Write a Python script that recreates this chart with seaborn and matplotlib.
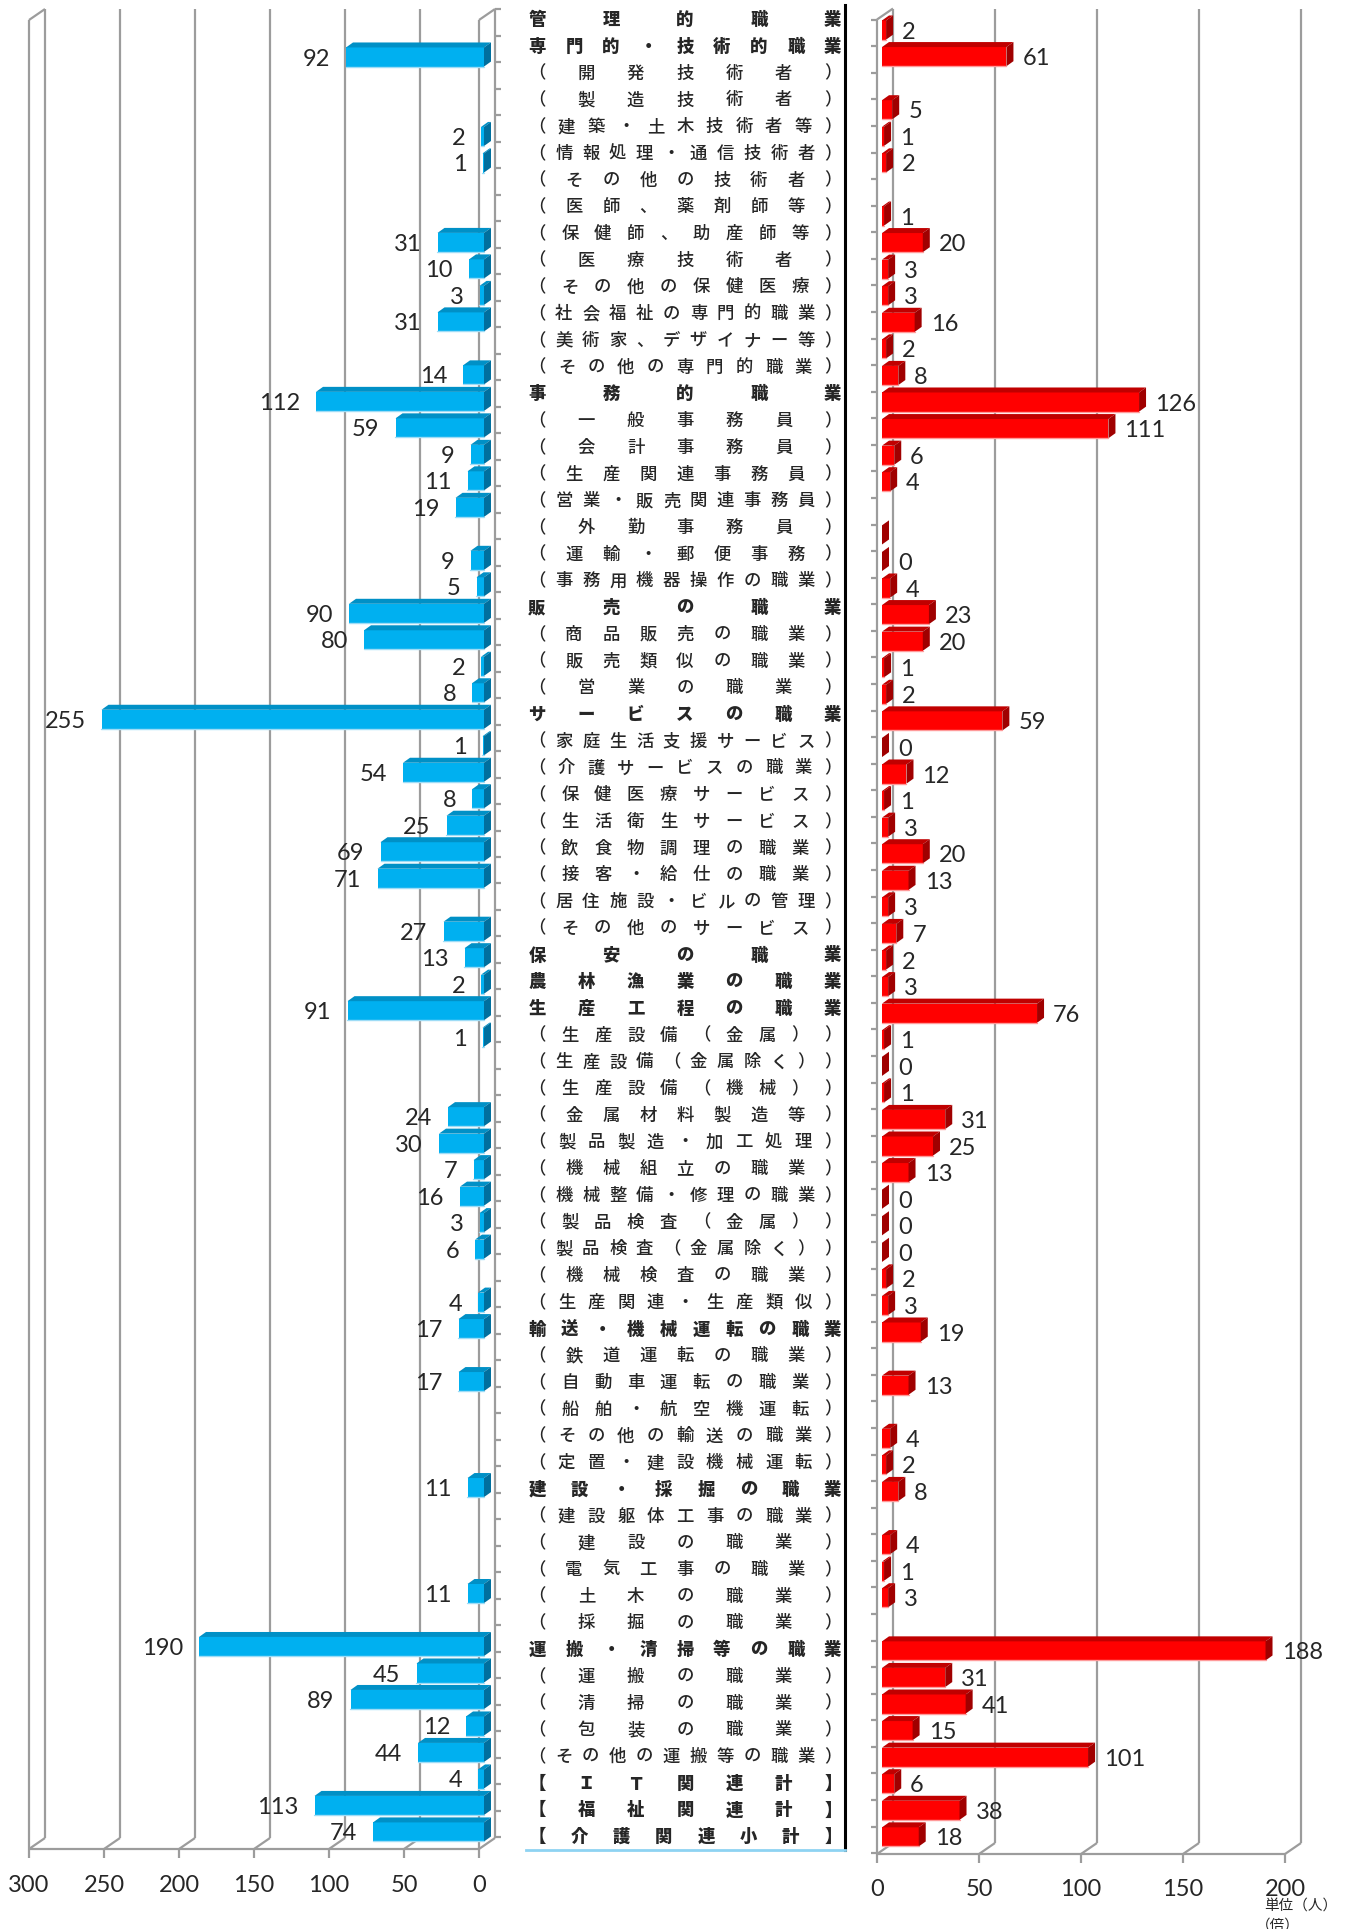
import numpy as np
import pandas as pd
import matplotlib
matplotlib.use("Agg")
import matplotlib.pyplot as plt
import seaborn as sns
from matplotlib.patches import Polygon

sns.set_style("white")
plt.rcParams['font.family'] = ['Lato', 'DejaVu Sans']

nan = np.nan

# category rows (top -> bottom)
labels = [
    "管理的職業", "専門的・技術的職業", "（開発技術者）", "（製造技術者）", "（建築・土木技術者等）",
    "（情報処理・通信技術者）", "（その他の技術者）", "（医師、薬剤師等）", "（保健師、助産師等）",
    "（医療技術者）", "（その他の保健医療）", "（社会福祉の専門的職業）", "（美術家、デザイナー等）",
    "（その他の専門的職業）",
    "事務的職業", "（一般事務員）", "（会計事務員）", "（生産関連事務員）", "（営業・販売関連事務員）",
    "（外勤事務員）", "（運輸・郵便事務）", "（事務用機器操作の職業）",
    "販売の職業", "（商品販売の職業）", "（販売類似の職業）", "（営業の職業）",
    "サービスの職業", "（家庭生活支援サービス）", "（介護サービスの職業）", "（保健医療サービス）",
    "（生活衛生サービス）", "（飲食物調理の職業）", "（接客・給仕の職業）", "（居住施設・ビルの管理）",
    "（その他のサービス）",
    "保安の職業", "農林漁業の職業", "生産工程の職業", "（生産設備（金属））", "（生産設備（金属除く））",
    "（生産設備（機械））", "（金属材料製造等）", "（製品製造・加工処理）", "（機械組立の職業）",
    "（機械整備・修理の職業）", "（製品検査（金属））", "（製品検査（金属除く））", "（機械検査の職業）",
    "（生産関連・生産類似）",
    "輸送・機械運転の職業", "（鉄道運転の職業）", "（自動車運転の職業）", "（船舶・航空機運転）",
    "（その他の輸送の職業）", "（定置・建設機械運転）",
    "建設・採掘の職業", "（建設躯体工事の職業）", "（建設の職業）", "（電気工事の職業）", "（土木の職業）",
    "（採掘の職業）",
    "運搬・清掃等の職業", "（運搬の職業）", "（清掃の職業）", "（包装の職業）", "（その他の運搬等の職業）",
    "【ＩＴ関連計】", "【福祉関連計】", "【介護関連小計】",
]

left_vals = [
    nan, 92, nan, nan, 2, 1, nan, nan, 31, 10, 3, 31, nan, 14,
    112, 59, 9, 11, 19, nan, 9, 5,
    90, 80, 2, 8,
    255, 1, 54, 8, 25, 69, 71, nan, 27,
    13, 2, 91, 1, nan, nan, 24, 30, 7, 16, 3, 6, nan, 4,
    17, nan, 17, nan, nan, nan,
    11, nan, nan, nan, 11, nan,
    190, 45, 89, 12, 44,
    4, 113, 74,
]

right_vals = [
    2, 61, nan, 5, 1, 2, nan, 1, 20, 3, 3, 16, 2, 8,
    126, 111, 6, 4, nan, 0, 0, 4,
    23, 20, 1, 2,
    59, 0, 12, 1, 3, 20, 13, 3, 7,
    2, 3, 76, 1, 0, 1, 31, 25, 13, 0, 0, 0, 2, 3,
    19, nan, 13, nan, 4, 2,
    8, nan, 4, 1, 3, nan,
    188, 31, 41, 15, 101,
    6, 38, 18,
]

right_no_label = ["（外勤事務員）"]
left_ticks = [300, 250, 200, 150, 100, 50, 0]
right_ticks = [0, 50, 100, 150, 200]

df = pd.DataFrame({"label": labels, "left": left_vals, "right": right_vals})

W, H = 1345, 1929
fig = plt.figure(figsize=(W / 100, H / 100), dpi=100)

def px_box(x0, x1, y0, y1):
    return [x0 / W, 1 - y1 / H, (x1 - x0) / W, (y1 - y0) / H]

ax_l = fig.add_axes(px_box(34, 484, 17, 1846))
ax_m = fig.add_axes(px_box(526, 845, 5, 1850))
ax_r = fig.add_axes(px_box(882, 1290, 16.5, 1851))

R_TOP, R_FLOOR = -0.51, 68.53
FRONT = (-5, -3)   # pixel offsets (display, y up) from bar plane
BACK = (11, 8)
DEPTH = (7, 5)
GRID = "#9c9c9c"
CJK = ["Noto Sans CJK JP", "DejaVu Sans"]

sns.barplot(data=df.dropna(subset=["left"]), x="left", y="label", order=labels, orient="h",
            color="#00b0f0", saturation=1, width=0.72, linewidth=0, ax=ax_l, zorder=3)
sns.barplot(data=df.dropna(subset=["right"]), x="right", y="label", order=labels, orient="h",
            color="#ff0000", saturation=1, width=0.72, linewidth=0, ax=ax_r, zorder=3)

ax_l.set_xlim(300, 0)
ax_r.set_xlim(0, 200)
for ax in (ax_l, ax_r):
    ax.set_ylim(R_FLOOR, R_TOP)
    ax.axis("off")


def shifted(ax, x, y, dx, dy):
    p = ax.transData.transform((x, y)) + np.array([dx, dy])
    return ax.transData.inverted().transform(p)


def seg(ax, p, q, **kw):
    ax.plot([p[0], q[0]], [p[1], q[1]], color=GRID, lw=1.6, clip_on=False,
            solid_capstyle="butt", **kw)


# 3D faces on bars
def add_faces(ax, top_c, side_c, low_c):
    inv = ax.transData.inverted()
    dx, dy = DEPTH
    for p in list(ax.patches):
        xa, ya = ax.transData.transform((p.get_x(), p.get_y()))
        xb, yb = ax.transData.transform((p.get_x() + p.get_width(), p.get_y() + p.get_height()))
        x_lo, x_hi = sorted((xa, xb))
        y_lo, y_hi = sorted((ya, yb))
        top = [(x_lo, y_hi), (x_hi, y_hi), (x_hi + dx, y_hi + dy), (x_lo + dx, y_hi + dy)]
        side = [(x_hi, y_lo), (x_hi, y_hi), (x_hi + dx, y_hi + dy), (x_hi + dx, y_lo + dy)]
        ax.add_patch(Polygon(inv.transform(top), closed=True, fc=top_c, ec="none",
                             clip_on=False, zorder=3))
        ax.add_patch(Polygon(inv.transform(side), closed=True, fc=side_c, ec="none",
                             clip_on=False, zorder=3))
        bl = inv.transform([(x_lo, y_lo), (x_hi, y_lo)])
        ax.plot(bl[:, 0], bl[:, 1], color=low_c, lw=1.0, clip_on=False, zorder=4)


# floor, back wall gridlines, ticks
def frame(ax, ticks, edges, cat_x, cat_plane, cat_dir):
    for v in ticks:
        fb = shifted(ax, v, R_FLOOR, *BACK)
        tb = shifted(ax, v, R_TOP, *BACK)
        ff = shifted(ax, v, R_FLOOR, *FRONT)
        seg(ax, fb, tb, zorder=1)
        seg(ax, ff, fb, zorder=1)
        seg(ax, ff, shifted(ax, v, R_FLOOR, FRONT[0], FRONT[1] - 9), zorder=1)
        ax.annotate(str(v), xy=(v, R_FLOOR), xytext=(FRONT[0], FRONT[1] - 36),
                    textcoords="offset pixels", ha="center", va="center", fontsize=17,
                    annotation_clip=False)
    seg(ax, shifted(ax, ticks[0], R_FLOOR, *FRONT), shifted(ax, ticks[-1], R_FLOOR, *FRONT), zorder=1)
    for v in edges:
        ft = shifted(ax, v, R_TOP, *FRONT)
        seg(ax, shifted(ax, v, R_FLOOR, *FRONT), ft, zorder=1)
        seg(ax, ft, shifted(ax, v, R_TOP, *BACK), zorder=1)
    for b in np.arange(-0.5, len(labels)):
        p = shifted(ax, cat_x, b, *cat_plane)
        q = shifted(ax, cat_x, b, cat_plane[0] + 6 * cat_dir, cat_plane[1])
        seg(ax, p, q, zorder=1)


frame(ax_l, left_ticks, [300, 0], 0, BACK, 1)
frame(ax_r, right_ticks, [0], 0, FRONT, -1)

add_faces(ax_l, "#0090c6", "#006f9e", "#9edcf6")
add_faces(ax_r, "#c00000", "#a00000", "#ff9a9a")

# value labels
for r, v in enumerate(left_vals):
    if not np.isnan(v):
        ax_l.annotate(f"{int(v)}", xy=(v, r), xytext=(-16, -2), textcoords="offset pixels",
                      ha="right", va="center", fontsize=17, annotation_clip=False, zorder=5)
for r, v in enumerate(right_vals):
    if not np.isnan(v) and labels[r] not in right_no_label:
        ax_r.annotate(f"{int(v)}", xy=(v, r), xytext=(16, -2), textcoords="offset pixels",
                      ha="left", va="center", fontsize=17, annotation_clip=False, zorder=5)

# middle column: distributed category labels
ax_m.set_xlim(0, 1)
ax_m.set_ylim(68.48, -0.573)
ax_m.set_xticks([])
ax_m.set_yticks([])
for s in ("top", "left"):
    ax_m.spines[s].set_visible(False)
ax_m.spines["right"].set_color("black")
ax_m.spines["right"].set_linewidth(2.2)
ax_m.spines["bottom"].set_color("#8ed3f2")
ax_m.spines["bottom"].set_linewidth(2)
ax_m.patch.set_alpha(0)
for i, lab in enumerate(labels):
    chars = list(lab)
    xs = np.linspace(0.0345, 0.962, len(chars))
    bold = not lab.startswith("（")
    for x, c in zip(xs, chars):
        ax_m.text(x, i, c, ha="center", va="center", fontsize=12.5,
                  fontweight="black" if bold else "medium", family=CJK)

fig.text(1337 / W, 1 - 1906 / H, "単位（人）", ha="right", va="center", fontsize=10.5, family=CJK)
fig.text(1256 / W, 1 - 1919 / H, "（倍）", ha="left", va="top", fontsize=10.5, family=CJK)

fig.savefig("out.png", dpi=100, facecolor="white")
